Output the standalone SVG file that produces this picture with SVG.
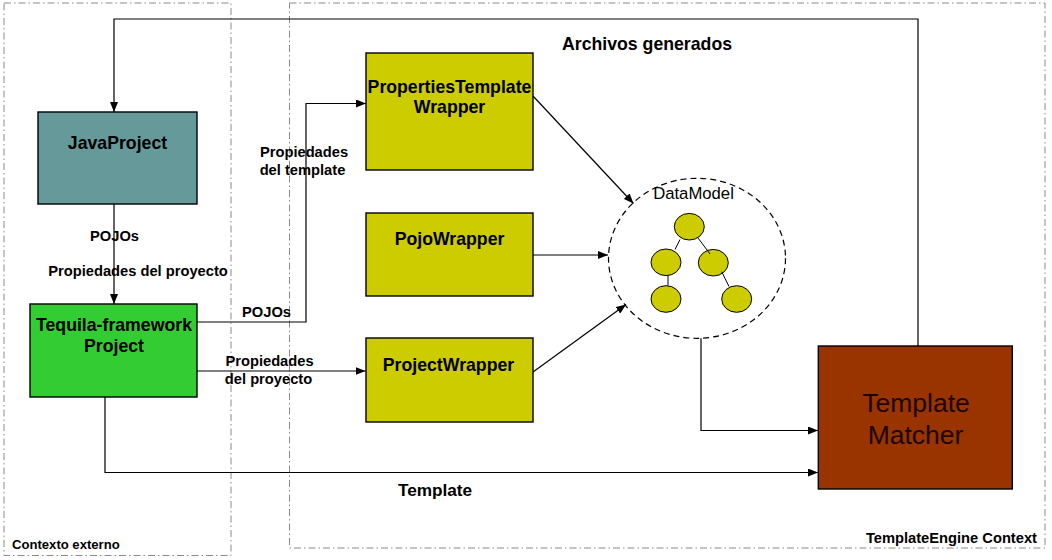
<svg xmlns="http://www.w3.org/2000/svg" width="1052" height="560" viewBox="0 0 1052 560">
<defs>
<style>
.ctx{fill:none;stroke:#8a8a8a;stroke-width:1;stroke-dasharray:7 3 1.5 3}
.box{stroke:#000;stroke-width:1.4}
.wr{fill:#cccc00}
.t{font-family:"Liberation Sans",Arial,sans-serif;fill:#000}
.b{font-weight:bold}
.big{font-size:17.7px;font-weight:bold}
.lbl{font-size:14.7px;font-weight:bold}
.con{fill:none;stroke:#000;stroke-width:1.2}
.node{fill:#cccc00;stroke:#000;stroke-width:1}
</style>
<marker id="arr" viewBox="0 0 10 8" refX="10" refY="4" markerWidth="10" markerHeight="8" orient="auto" markerUnits="userSpaceOnUse">
<path d="M0,0 L10,4 L0,8 z" fill="#000"/>
</marker>
</defs>
<rect width="1052" height="560" fill="#fff"/>
<g id="contexts">
<rect class="ctx" x="4" y="3" width="227" height="552.5"/>
<rect class="ctx" x="289.5" y="3" width="755.5" height="545"/>
<text class="t b" x="12" y="549" font-size="13.1px">Contexto externo</text>
<text class="t b" x="1037" y="543" font-size="14.7px" text-anchor="end">TemplateEngine Context</text>
<text class="t big" x="647" y="49.5" text-anchor="middle">Archivos generados</text>
</g>
<g id="connectors">
<path class="con" d="M918 346 V19 H114 V112" marker-end="url(#arr)"/>
<path class="con" d="M114 204 V304" marker-end="url(#arr)"/>
<path class="con" d="M197 322 H306 V103.5 H366" marker-end="url(#arr)"/>
<path class="con" d="M197 371 H365.5" marker-end="url(#arr)"/>
<path class="con" d="M105 397 V472.5 H818" marker-end="url(#arr)"/>
<path class="con" d="M701 338.3 V430.5 H818" marker-end="url(#arr)"/>
<path class="con" d="M533 96 L633.5 203.5" marker-end="url(#arr)"/>
<path class="con" d="M533 255 H608" marker-end="url(#arr)"/>
<path class="con" d="M533 372 L626 304.5" marker-end="url(#arr)"/>
<text class="t lbl" x="114.5" y="241" text-anchor="middle">POJOs</text>
<text class="t lbl" x="138" y="276" text-anchor="middle">Propiedades del proyecto</text>
<text class="t lbl" x="304" y="157" text-anchor="middle">Propiedades</text>
<text class="t lbl" x="302.5" y="174.5" text-anchor="middle">del template</text>
<text class="t lbl" x="266.5" y="316.5" text-anchor="middle">POJOs</text>
<text class="t lbl" x="269.5" y="366" text-anchor="middle">Propiedades</text>
<text class="t lbl" x="268.5" y="383.5" text-anchor="middle">del proyecto</text>
<text class="t b" x="435" y="496" font-size="17.2px" text-anchor="middle">Template</text>
</g>
<g id="javaproject">
<rect class="box" x="38" y="112" width="159" height="92" fill="#669999"/>
<text class="t big" x="117.5" y="148.5" text-anchor="middle">JavaProject</text>
</g>
<g id="tequila">
<rect class="box" x="30" y="304" width="167" height="93" fill="#33cc33"/>
<text class="t big" x="114" y="331" text-anchor="middle">Tequila-framework</text>
<text class="t big" x="114" y="352" text-anchor="middle">Project</text>
</g>
<g id="propertiestemplatewrapper">
<rect class="box wr" x="366" y="53" width="167" height="117"/>
<text class="t big" x="449.5" y="92.5" text-anchor="middle">PropertiesTemplate</text>
<text class="t big" x="449.5" y="113" text-anchor="middle">Wrapper</text>
</g>
<g id="pojowrapper">
<rect class="box wr" x="366" y="213" width="167" height="83"/>
<text class="t big" x="449.5" y="245" text-anchor="middle">PojoWrapper</text>
</g>
<g id="projectwrapper">
<rect class="box wr" x="366" y="338" width="167" height="84"/>
<text class="t big" x="448.5" y="371" text-anchor="middle">ProjectWrapper</text>
</g>
<g id="datamodel">
<ellipse cx="697" cy="258.3" rx="88.5" ry="80" fill="none" stroke="#000" stroke-width="1.2" stroke-dasharray="6 4"/>
<text class="t" x="693.5" y="199" font-size="16.7px" text-anchor="middle">DataModel</text>
<ellipse class="node" cx="689.3" cy="226.7" rx="15" ry="13.3"/>
<ellipse class="node" cx="666" cy="262.3" rx="15" ry="13.3"/>
<ellipse class="node" cx="713.3" cy="262.7" rx="15" ry="13.3"/>
<ellipse class="node" cx="666" cy="299" rx="15" ry="13.3"/>
<ellipse class="node" cx="736.7" cy="299" rx="15" ry="13.3"/>
<path d="M680 239.5 L675 249.5 M697.7 237.5 L710 254 M668 275.5 V285.7 M721.7 271.7 L729 286.5" stroke="#000" stroke-width="1" fill="none"/>
</g>
<g id="templatematcher">
<rect class="box" x="818.3" y="346" width="194" height="143" fill="#993300"/>
<text class="t" x="916" y="412" font-size="26.5px" fill="#1a0800" text-anchor="middle" style="fill:#1a0800">Template</text>
<text class="t" x="915.5" y="443.5" font-size="26.5px" text-anchor="middle" style="fill:#1a0800">Matcher</text>
</g>
</svg>
